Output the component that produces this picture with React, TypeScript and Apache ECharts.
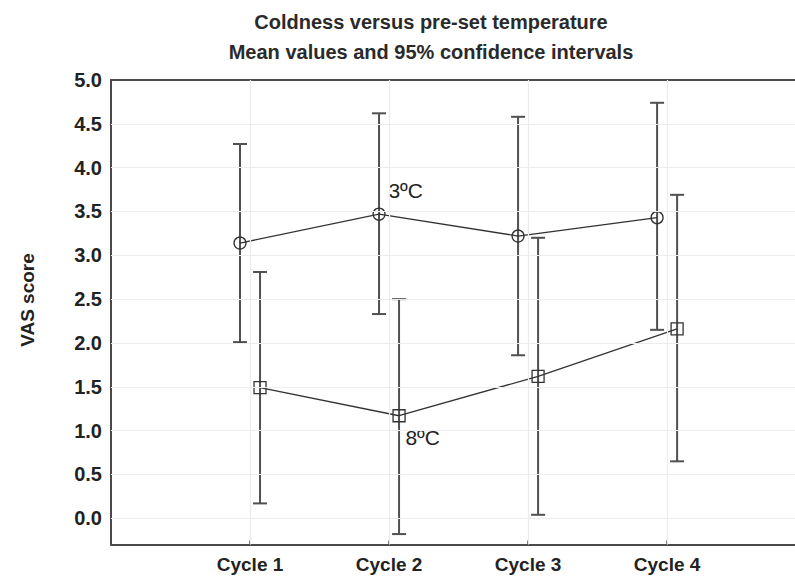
import React, { useEffect, useRef } from "react";
import * as echarts from "echarts";

const cycles = ["Cycle 1", "Cycle 2", "Cycle 3", "Cycle 4"];
const mean3 = [3.14, 3.47, 3.22, 3.43];
const low3 = [2.01, 2.33, 1.86, 2.15];
const high3 = [4.27, 4.62, 4.58, 4.74];
const mean8 = [1.49, 1.17, 1.62, 2.16];
const low8 = [0.17, -0.18, 0.04, 0.65];
const high8 = [2.81, 2.5, 3.2, 3.69];
const yTicks = [0, 0.5, 1, 1.5, 2, 2.5, 3, 3.5, 4, 4.5, 5];
const xTicks = [1, 2, 3, 4];
const seriesNames = ["3ºC", "8ºC"];

const OFFSET = 0.072;
const FONT = "'Liberation Sans', Arial, sans-serif";

export default function App() {
  const ref = useRef<HTMLDivElement>(null);
  useEffect(() => {
    document.body.style.margin = "0";
    const chart = echarts.init(ref.current!, null, { renderer: "svg" });
    const x3 = cycles.map((_, i) => i + 1 - OFFSET);
    const x8 = cycles.map((_, i) => i + 1 + OFFSET);
    const errData = [
      ...x3.map((x, i) => [x, low3[i], high3[i]]),
      ...x8.map((x, i) => [x, low8[i], high8[i]]),
    ];
    const axisCol = "#4a4a4a";
    const option: any = {
      animation: false,
      backgroundColor: "#fff",
      title: {
        text: "Coldness versus pre-set temperature\nMean values and 95% confidence intervals",
        left: 426,
        top: 2,
        textAlign: "center",
        textStyle: {
          fontFamily: FONT,
          fontSize: 20,
          fontWeight: "bold",
          color: "#2a2a2a",
          lineHeight: 30,
        },
      },
      graphic: [
        {
          type: "text",
          x: 27,
          y: 300,
          rotation: Math.PI / 2,
          style: {
            text: "VAS score",
            fontFamily: FONT,
            fontSize: 19,
            fontWeight: "bold",
            fill: "#222",
            textAlign: "center",
            textVerticalAlign: "middle",
          },
        },
      ],
      grid: { left: 111, right: 0, top: 80, bottom: 32.4, containLabel: false },
      xAxis: [
        {
          type: "value",
          min: 0,
          max: 4.92,
          axisLine: { show: true, onZero: false, lineStyle: { color: axisCol, width: 2 } },
          axisTick: {
            show: true,
            inside: true,
            length: 4,
            customValues: xTicks,
            lineStyle: { color: axisCol, width: 1.5 },
          },
          axisLabel: {
            customValues: xTicks,
            formatter: (v: number) => cycles[Math.round(v) - 1] ?? "",
            fontFamily: FONT,
            fontSize: 19,
            fontWeight: "bold",
            color: "#222",
            margin: 10,
          },
          splitLine: { show: false },
        },
        {
          type: "value",
          position: "top",
          min: 0,
          max: 4.92,
          axisLine: { show: true, onZero: false, lineStyle: { color: axisCol, width: 2 } },
          axisTick: { show: false },
          axisLabel: { show: false },
          splitLine: { show: false },
        },
      ],
      yAxis: {
        type: "value",
        min: -0.3,
        max: 5,
        axisLine: { show: true, onZero: false, lineStyle: { color: axisCol, width: 2 } },
        axisTick: { show: false, customValues: yTicks },
        axisLabel: {
          customValues: yTicks,
          formatter: (v: number) => v.toFixed(1),
          fontFamily: FONT,
          fontSize: 20,
          fontWeight: "bold",
          color: "#222",
          margin: 9,
        },
        splitLine: { show: false },
      },
      series: [
        {
          type: "line",
          data: [],
          z: 0,
          silent: true,
          markLine: {
            silent: true,
            symbol: "none",
            label: { show: false },
            lineStyle: { color: "#ececec", width: 1.2, type: "solid" },
            data: [
              ...yTicks.filter((v) => v < 5).map((v) => ({ yAxis: v })),
              ...xTicks.map((v) => ({ xAxis: v })),
            ],
          },
        },
        {
          type: "custom",
          z: 3,
          silent: true,
          data: errData,
          renderItem: (params: any, api: any) => {
            const x = api.value(0);
            const lo = api.coord([x, api.value(1)]);
            const hi = api.coord([x, api.value(2)]);
            const h = 7;
            const style = { stroke: "#505050", lineWidth: 2 };
            return {
              type: "group",
              children: [
                { type: "line", shape: { x1: hi[0], y1: hi[1], x2: lo[0], y2: lo[1] }, style },
                { type: "line", shape: { x1: hi[0] - h, y1: hi[1], x2: hi[0] + h, y2: hi[1] }, style },
                { type: "line", shape: { x1: lo[0] - h, y1: lo[1], x2: lo[0] + h, y2: lo[1] }, style },
              ],
            };
          },
        },
        {
          name: seriesNames[0],
          type: "line",
          z: 4,
          symbol: "circle",
          symbolSize: 12,
          lineStyle: { color: "#333", width: 1.3 },
          itemStyle: { color: "rgba(0,0,0,0)", borderColor: "#333", borderWidth: 1.3 },
          data: x3.map((x, i) =>
            i === 1
              ? {
                  value: [x, mean3[i]],
                  label: {
                    show: true,
                    formatter: seriesNames[0],
                    position: [16, -17],
                    align: "left",
                    verticalAlign: "middle",
                    fontFamily: FONT,
                    fontSize: 21,
                    color: "#222",
                  },
                }
              : [x, mean3[i]]
          ),
        },
        {
          name: seriesNames[1],
          type: "line",
          z: 4,
          symbol: "rect",
          symbolSize: 12,
          lineStyle: { color: "#333", width: 1.3 },
          itemStyle: { color: "rgba(0,0,0,0)", borderColor: "#333", borderWidth: 1.3 },
          data: x8.map((x, i) =>
            i === 1
              ? {
                  value: [x, mean8[i]],
                  label: {
                    show: true,
                    formatter: seriesNames[1],
                    position: [13, 28],
                    align: "left",
                    verticalAlign: "middle",
                    fontFamily: FONT,
                    fontSize: 21,
                    color: "#222",
                  },
                }
              : [x, mean8[i]]
          ),
        },
      ],
    };
    chart.setOption(option);
    return () => chart.dispose();
  }, []);
  return <div ref={ref} style={{ width: 795, height: 577 }} />;
}
